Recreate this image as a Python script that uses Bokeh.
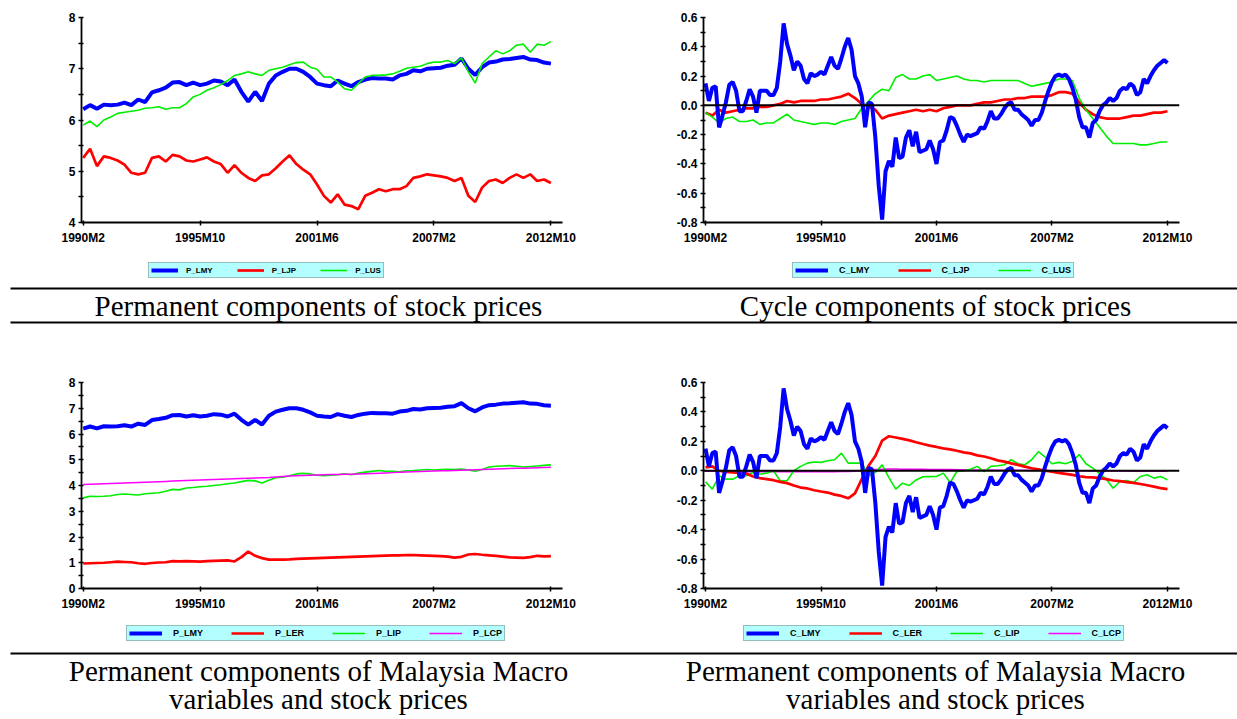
from bokeh.plotting import figure
from bokeh.models import (Range1d, FixedTicker, Legend, LegendItem, Span, Label,
                          PrintfTickFormatter)
from bokeh.layouts import column, row
from bokeh.embed import file_html
from bokeh.resources import INLINE

# ---------------------------------------------------------------- data
# month index counted from 1990M2 (0) to 2012M10 (272)
months4 = list(range(0, 273, 4))
months2 = list(range(0, 273, 2))

x_tick_months = [0, 68, 136, 204, 272]
x_tick_labels = ["1990M2", "1995M10", "2001M6", "2007M2", "2012M10"]

p_lmy = [6.21, 6.29, 6.22, 6.30, 6.29, 6.30, 6.34, 6.29, 6.40, 6.35,
         6.54, 6.58, 6.63, 6.73, 6.74, 6.68, 6.73, 6.68, 6.71, 6.77,
         6.75, 6.68, 6.79, 6.55, 6.36, 6.55, 6.37, 6.71, 6.87, 6.94,
         7.00, 7.00, 6.94, 6.84, 6.71, 6.68, 6.66, 6.77, 6.71, 6.66,
         6.74, 6.79, 6.82, 6.81, 6.81, 6.79, 6.87, 6.90, 6.97, 6.95,
         7.00, 7.01, 7.02, 7.06, 7.08, 7.20, 7.00, 6.88, 7.03, 7.12,
         7.14, 7.18, 7.19, 7.21, 7.23, 7.18, 7.17, 7.12, 7.10]
p_ljp = [5.26, 5.44, 5.10, 5.29, 5.26, 5.21, 5.13, 4.97, 4.94, 4.97,
         5.26, 5.29, 5.19, 5.32, 5.29, 5.21, 5.19, 5.23, 5.27, 5.19,
         5.14, 4.97, 5.12, 4.97, 4.87, 4.81, 4.92, 4.94, 5.06, 5.19,
         5.31, 5.14, 5.03, 4.94, 4.74, 4.52, 4.39, 4.55, 4.35, 4.32,
         4.26, 4.52, 4.58, 4.65, 4.61, 4.65, 4.65, 4.71, 4.87, 4.90,
         4.94, 4.92, 4.90, 4.87, 4.81, 4.87, 4.52, 4.40, 4.68, 4.81,
         4.84, 4.77, 4.87, 4.94, 4.87, 4.94, 4.81, 4.84, 4.77]
p_lus = [5.90, 5.98, 5.87, 6.00, 6.06, 6.13, 6.15, 6.17, 6.19, 6.23,
         6.24, 6.26, 6.21, 6.24, 6.24, 6.32, 6.45, 6.50, 6.58, 6.63,
         6.69, 6.77, 6.87, 6.90, 6.94, 6.90, 6.87, 6.97, 7.00, 7.03,
         7.08, 7.12, 7.13, 7.03, 6.99, 6.84, 6.84, 6.74, 6.61, 6.58,
         6.71, 6.84, 6.87, 6.87, 6.88, 6.90, 6.95, 7.01, 7.03, 7.05,
         7.10, 7.13, 7.13, 7.16, 7.10, 7.21, 6.94, 6.72, 7.10, 7.23,
         7.35, 7.29, 7.35, 7.46, 7.48, 7.32, 7.48, 7.46, 7.53]

c_lmy = [0.15, 0.03, 0.12, 0.13, -0.15, -0.07, 0.02, 0.14, 0.16, 0.10,
         -0.04, -0.04, 0.03, 0.11, 0.06, -0.05, 0.10, 0.10, 0.10, 0.07,
         0.07, 0.12, 0.30, 0.56, 0.42, 0.34, 0.24, 0.30, 0.27, 0.18,
         0.15, 0.22, 0.20, 0.21, 0.23, 0.21, 0.27, 0.33, 0.27, 0.25,
         0.32, 0.40, 0.46, 0.38, 0.20, 0.15, 0.06, -0.15, 0.02, 0.01,
         -0.22, -0.55, -0.78, -0.45, -0.38, -0.42, -0.22, -0.36, -0.35, -0.22,
         -0.17, -0.28, -0.18, -0.32, -0.31, -0.30, -0.24, -0.30, -0.40, -0.25,
         -0.24, -0.17, -0.08, -0.09, -0.14, -0.20, -0.25, -0.20, -0.21, -0.20,
         -0.19, -0.15, -0.16, -0.11, -0.04, -0.09, -0.09, -0.06, -0.02, 0.01,
         0.02, -0.03, -0.03, -0.06, -0.08, -0.10, -0.14, -0.10, -0.10, -0.05,
         0.03, 0.10, 0.16, 0.20, 0.21, 0.20, 0.21, 0.18, 0.12, 0.04,
         -0.08, -0.15, -0.15, -0.22, -0.12, -0.10, -0.04, 0.00, 0.02, 0.05,
         0.03, 0.05, 0.10, 0.12, 0.11, 0.15, 0.13, 0.07, 0.09, 0.18,
         0.15, 0.20, 0.24, 0.27, 0.29, 0.31, 0.29]
c_ljp = [-0.05, -0.07, -0.03, -0.05, -0.04, -0.03, -0.02, -0.02, -0.01, -0.01,
         0.00, 0.01, 0.03, 0.02, 0.03, 0.03, 0.03, 0.04, 0.04, 0.05,
         0.06, 0.08, 0.05, 0.01, -0.01, -0.03, -0.09, -0.07, -0.06, -0.05,
         -0.04, -0.03, -0.04, -0.03, -0.04, -0.02, -0.01, 0.00, 0.00, 0.00,
         0.01, 0.02, 0.02, 0.03, 0.04, 0.04, 0.05, 0.05, 0.06, 0.06,
         0.06, 0.07, 0.09, 0.09, 0.08, 0.02, -0.03, -0.06, -0.08, -0.09,
         -0.09, -0.09, -0.08, -0.07, -0.07, -0.06, -0.05, -0.05, -0.04]
c_lus = [-0.05, -0.08, -0.12, -0.09, -0.08, -0.11, -0.11, -0.10, -0.13, -0.12,
         -0.12, -0.09, -0.06, -0.10, -0.11, -0.12, -0.13, -0.12, -0.12, -0.13,
         -0.11, -0.10, -0.09, -0.02, 0.03, 0.08, 0.11, 0.10, 0.19, 0.21,
         0.18, 0.18, 0.20, 0.21, 0.17, 0.18, 0.19, 0.20, 0.18, 0.17,
         0.17, 0.16, 0.17, 0.17, 0.17, 0.17, 0.17, 0.15, 0.13, 0.14,
         0.15, 0.16, 0.18, 0.18, 0.17, 0.05, -0.03, -0.09, -0.15, -0.21,
         -0.26, -0.26, -0.26, -0.26, -0.27, -0.27, -0.26, -0.25, -0.25]

p_ler = [0.97, 0.98, 0.99, 1.00, 1.02, 1.04, 1.03, 1.02, 0.98, 0.96,
         0.99, 1.01, 1.02, 1.06, 1.05, 1.06, 1.05, 1.04, 1.06, 1.07,
         1.08, 1.09, 1.05, 1.22, 1.43, 1.27, 1.18, 1.12, 1.12, 1.12,
         1.13, 1.15, 1.16, 1.17, 1.18, 1.19, 1.20, 1.21, 1.22, 1.23,
         1.24, 1.25, 1.26, 1.27, 1.28, 1.29, 1.29, 1.30, 1.30, 1.29,
         1.28, 1.27, 1.26, 1.24, 1.20, 1.23, 1.32, 1.34, 1.31, 1.29,
         1.27, 1.24, 1.21, 1.20, 1.19, 1.22, 1.27, 1.25, 1.26]
p_lip = [3.52, 3.58, 3.57, 3.58, 3.60, 3.65, 3.67, 3.65, 3.63, 3.68,
         3.70, 3.72, 3.78, 3.85, 3.83, 3.90, 3.92, 3.95, 3.97, 4.00,
         4.03, 4.07, 4.10, 4.15, 4.20, 4.18, 4.10, 4.20, 4.30, 4.32,
         4.38, 4.45, 4.47, 4.45, 4.40, 4.38, 4.40, 4.42, 4.45, 4.42,
         4.48, 4.52, 4.55, 4.58, 4.55, 4.55, 4.53, 4.57, 4.58, 4.60,
         4.62, 4.60, 4.62, 4.63, 4.62, 4.64, 4.60, 4.55, 4.62, 4.72,
         4.75, 4.76, 4.77, 4.75, 4.72, 4.74, 4.76, 4.78, 4.80]
p_lcp = [4.04, 4.05, 4.06, 4.07, 4.08, 4.09, 4.10, 4.11, 4.12, 4.13,
         4.14, 4.15, 4.16, 4.17, 4.18, 4.19, 4.20, 4.21, 4.22, 4.23,
         4.24, 4.25, 4.26, 4.27, 4.28, 4.29, 4.30, 4.31, 4.33, 4.35,
         4.37, 4.38, 4.39, 4.40, 4.41, 4.42, 4.43, 4.43, 4.44, 4.44,
         4.45, 4.46, 4.47, 4.48, 4.49, 4.50, 4.51, 4.52, 4.53, 4.54,
         4.55, 4.56, 4.57, 4.57, 4.58, 4.59, 4.60, 4.61, 4.62, 4.63,
         4.64, 4.65, 4.66, 4.67, 4.67, 4.68, 4.69, 4.70, 4.71]

c_ler = [0.023, 0.030, 0.000, -0.007, -0.011, -0.014, -0.018, -0.039, -0.050, -0.057,
         -0.064, -0.075, -0.084, -0.100, -0.114, -0.120, -0.132, -0.141, -0.148, -0.162,
         -0.171, -0.187, -0.153, -0.057, 0.034, 0.100, 0.205, 0.235, 0.226, 0.217,
         0.207, 0.194, 0.182, 0.171, 0.162, 0.152, 0.145, 0.136, 0.125, 0.118,
         0.105, 0.097, 0.085, 0.071, 0.062, 0.050, 0.040, 0.028, 0.017, 0.010,
         0.000, -0.006, -0.014, -0.021, -0.028, -0.037, -0.043, -0.045, -0.050, -0.057,
         -0.066, -0.070, -0.077, -0.082, -0.090, -0.098, -0.108, -0.118, -0.125]
c_lip = [-0.075, -0.125, -0.034, -0.057, -0.057, -0.034, -0.034, -0.011, -0.023, -0.016,
         0.000, -0.068, -0.068, 0.000, 0.030, 0.052, 0.060, 0.057, 0.068, 0.075,
         0.120, 0.052, 0.052, 0.052, -0.034, -0.011, 0.040, -0.046, -0.125, -0.084,
         -0.100, -0.062, -0.041, -0.040, -0.039, -0.016, -0.080, -0.005, 0.000, 0.011,
         0.030, -0.005, 0.030, 0.034, 0.041, 0.075, 0.048, 0.041, 0.075, 0.130,
         0.093, 0.048, 0.057, 0.048, 0.064, 0.110, 0.048, 0.018, -0.020, -0.057,
         -0.119, -0.073, -0.066, -0.080, -0.039, -0.027, -0.050, -0.039, -0.062]
c_lcp = [-0.003, -0.004, -0.004, -0.005, -0.005, -0.005, -0.006, -0.006, -0.006, -0.006,
         -0.007, -0.007, -0.007, -0.007, -0.007, -0.007, -0.007, -0.006, -0.006, -0.006,
         -0.005, -0.005, -0.003, 0.000, 0.004, 0.008, 0.011, 0.012, 0.012, 0.011,
         0.011, 0.010, 0.010, 0.009, 0.009, 0.008, 0.008, 0.007, 0.007, 0.006,
         0.006, 0.005, 0.005, 0.004, 0.004, 0.003, 0.003, 0.003, 0.002, 0.002,
         0.002, 0.001, 0.001, 0.001, 0.000, 0.000, 0.000, -0.001, -0.001, -0.001,
         -0.002, -0.002, -0.002, -0.003, -0.003, -0.003, -0.004, -0.004, -0.004]

perm_y_ticks = [4, 5, 6, 7, 8]
perm_y_minor = [4.5, 5.5, 6.5, 7.5]
macro_y_ticks = [0, 1, 2, 3, 4, 5, 6, 7, 8]
macro_y_minor = [0.5, 1.5, 2.5, 3.5, 4.5, 5.5, 6.5, 7.5]
cycle_y_ticks = [-0.8, -0.6, -0.4, -0.2, 0.0, 0.2, 0.4, 0.6]
cycle_y_minor = [-0.7, -0.5, -0.3, -0.1, 0.1, 0.3, 0.5]

BLUE, RED, GREEN, MAGENTA = "#0000ff", "#ff0000", "#00ee00", "#ff00ff"
W_BLUE, W_RED, W_GREEN, W_MAG = 4, 2.7, 1.6, 1.5
AXIS_FONT = "Liberation Sans"
SERIF = "Liberation Serif"
NAN = float("nan")


def panel(width, height, borders, x_span, y_span, y_ticks, y_minor, y_fmt):
    left, right, top, bottom = borders
    p = figure(width=width, height=height, output_backend="svg", toolbar_location=None,
               title=None, x_range=Range1d(*x_span), y_range=Range1d(*y_span),
               min_border_left=left, min_border_right=right,
               min_border_top=top, min_border_bottom=bottom)
    p.outline_line_color = None
    p.grid.visible = False
    p.background_fill_color = "white"
    p.border_fill_color = "white"

    xa, ya = p.xaxis[0], p.yaxis[0]
    xa.ticker = FixedTicker(ticks=x_tick_months)
    xa.major_label_overrides = dict(zip(x_tick_months, x_tick_labels))
    ya.ticker = FixedTicker(ticks=y_ticks, minor_ticks=y_minor)
    ya.formatter = PrintfTickFormatter(format=y_fmt)
    for ax in (xa, ya):
        ax.axis_line_color = "black"
        ax.axis_line_width = 1.8
        ax.major_tick_line_color = "black"
        ax.major_tick_line_width = 1.5
        ax.minor_tick_line_color = "black"
        ax.minor_tick_line_width = 1.5
        ax.major_tick_in = 2
        ax.major_tick_out = 3
        ax.minor_tick_in = 2
        ax.minor_tick_out = 3
        ax.major_label_text_font = AXIS_FONT
        ax.major_label_text_font_style = "bold"
        ax.major_label_text_font_size = "12px"
        ax.major_label_text_color = "black"
    xa.minor_tick_line_color = None
    xa.major_label_standoff = 5
    ya.major_label_standoff = 3
    return p


def legend_strip(width, height, entries, loc, font_size, glyph_w, standoff, spacing):
    """A slim strip below a panel that carries the series key."""
    lf = figure(width=width, height=height, output_backend="svg", toolbar_location=None,
                title=None, x_range=Range1d(0, 1), y_range=Range1d(0, 1),
                x_axis_type=None, y_axis_type=None, min_border=0)
    lf.outline_line_color = None
    lf.grid.visible = False
    lf.background_fill_color = "white"
    lf.border_fill_color = "white"
    items = []
    for name, color, lw in entries:
        key = lf.line(x=[NAN], y=[NAN], line_color=color, line_width=lw)
        items.append(LegendItem(label=name, renderers=[key]))
    leg = Legend(items=items, location=loc, orientation="horizontal",
                 background_fill_color="#b3ffff", background_fill_alpha=1.0,
                 border_line_color="#7a7a7a", border_line_width=1,
                 label_text_font=AXIS_FONT, label_text_font_style="bold",
                 label_text_font_size=font_size, label_text_color="black",
                 glyph_width=glyph_w, glyph_height=10, label_height=10,
                 label_standoff=standoff, spacing=spacing, padding=2, margin=0)
    lf.add_layout(leg)
    return lf


LEFT_X = (-0.99, 278.76)
RIGHT_X = (-1.18, 279.07)

# ---- permanent components of stock prices
tl = panel(618, 250, (81, 56, 17, 28), LEFT_X, (4, 8), perm_y_ticks, perm_y_minor, "%d")
tl.line(months4, p_lmy, line_color=BLUE, line_width=W_BLUE)
tl.line(months4, p_ljp, line_color=RED, line_width=W_RED)
tl.line(months4, p_lus, line_color=GREEN, line_width=W_GREEN)
tl_key = legend_strip(618, 34, [("P_LMY", BLUE, W_BLUE), ("P_LJP", RED, W_RED),
                                ("P_LUS", GREEN, W_GREEN)], (67, 6), "8px", 27, 8, 24)

# ---- cycle components of stock prices
tr = panel(619, 250, (85, 58, 17, 28), RIGHT_X, (-0.8, 0.6), cycle_y_ticks, cycle_y_minor, "%.1f")
tr.add_layout(Span(location=0, dimension="width", line_color="black", line_width=2))
tr.line(months4, c_ljp, line_color=RED, line_width=W_RED)
tr.line(months4, c_lus, line_color=GREEN, line_width=W_GREEN)
tr.line(months2, c_lmy, line_color=BLUE, line_width=W_BLUE)
tr_key = legend_strip(619, 34, [("C_LMY", BLUE, W_BLUE), ("C_LJP", RED, W_RED),
                                ("C_LUS", GREEN, W_GREEN)], (89, 6), "9px", 33, 11, 28)

# ---- permanent components of macro variables
bl = panel(618, 296, (81, 56, 58, 32), LEFT_X, (0, 8), macro_y_ticks, macro_y_minor, "%d")
bl.line(months4, p_lmy, line_color=BLUE, line_width=W_BLUE)
bl.line(months4, p_ler, line_color=RED, line_width=W_RED)
bl.line(months4, p_lip, line_color=GREEN, line_width=W_GREEN)
bl.line(months4, p_lcp, line_color=MAGENTA, line_width=W_MAG)
bl_key = legend_strip(618, 30, [("P_LMY", BLUE, W_BLUE), ("P_LER", RED, W_RED),
                                ("P_LIP", GREEN, W_GREEN), ("P_LCP", MAGENTA, W_MAG)],
                      (45, 9), "9px", 33, 11, 28)

# ---- cycle components of macro variables
br = panel(619, 296, (85, 58, 58, 32), RIGHT_X, (-0.8, 0.6), cycle_y_ticks, cycle_y_minor, "%.1f")
br.line(months4, c_lcp, line_color=MAGENTA, line_width=W_MAG)
br.line(months4, c_lip, line_color=GREEN, line_width=W_GREEN)
br.add_layout(Span(location=0, dimension="width", line_color="black", line_width=2))
br.line(months4, c_ler, line_color=RED, line_width=W_RED)
br.line(months2, c_lmy, line_color=BLUE, line_width=W_BLUE)
br_key = legend_strip(619, 30, [("C_LMY", BLUE, W_BLUE), ("C_LER", RED, W_RED),
                                ("C_LIP", GREEN, W_GREEN), ("C_LCP", MAGENTA, W_MAG)],
                      (40, 9), "9px", 33, 11, 28)


def caption_band(height, rule_levels, captions):
    b = figure(width=1237, height=height, output_backend="svg", toolbar_location=None,
               title=None, x_range=Range1d(0, 1237), y_range=Range1d(0, height),
               x_axis_type=None, y_axis_type=None, min_border=0)
    b.outline_line_color = None
    b.grid.visible = False
    b.background_fill_color = "white"
    b.border_fill_color = "white"
    for lvl in rule_levels:
        b.line([10, 1237], [lvl, lvl], line_color="black", line_width=2)
    for cx, cy, txt in captions:
        b.add_layout(Label(x=cx, y=cy, text=txt, text_align="center",
                           text_baseline="alphabetic", text_font=SERIF,
                           text_font_size="29px", text_color="black"))
    return b


band1 = caption_band(40, [36, 2], [
    (318, 19, "Permanent components of stock prices"),
    (935, 19, "Cycle components of stock prices"),
])
band2 = caption_band(69, [66], [
    (318, 49, "Permanent components of Malaysia Macro"),
    (318, 21, "variables and stock prices"),
    (935, 49, "Permanent components of Malaysia Macro"),
    (935, 21, "variables and stock prices"),
])

page = column(row(column(tl, tl_key), column(tr, tr_key)), band1,
              row(column(bl, bl_key), column(br, br_key)), band2)
open("out.html", "w").write(file_html(page, INLINE, "Components"))
